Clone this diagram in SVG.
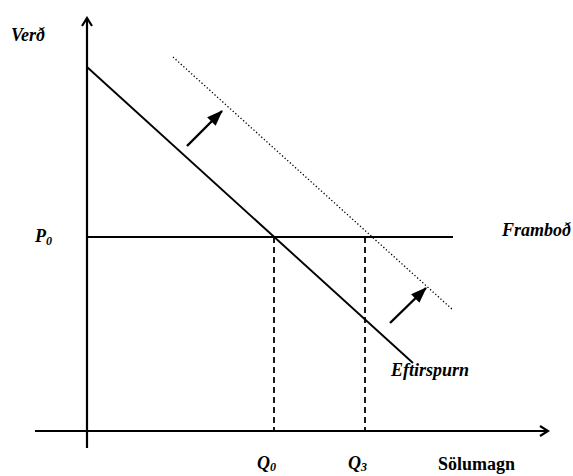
<svg xmlns="http://www.w3.org/2000/svg" width="573" height="476" viewBox="0 0 573 476">
<defs>
<style>
text{font-family:'Liberation Serif','Times New Roman',Times,serif;font-weight:bold;font-size:18px;fill:#000}
.it{font-style:italic}
.sub{font-size:12px}
.ax{stroke:#000;stroke-width:2.2;fill:none}
.ln{stroke:#000;stroke-width:1.9;fill:none}
.dash{stroke:#000;stroke-width:1.8;stroke-dasharray:6,4;fill:none}
.dot{stroke:#000;stroke-width:1.3;stroke-dasharray:1.3,2.2;fill:none}
.shift{stroke:#000;stroke-width:2.4;fill:none}
</style>
<marker id="open" viewBox="0 0 12 12" refX="10" refY="6" markerWidth="12" markerHeight="12" markerUnits="userSpaceOnUse" orient="auto">
<path d="M2,1 L10,6 L2,11" fill="none" stroke="#000" stroke-width="2.2"/>
</marker>
<marker id="solid" viewBox="0 0 16 12" refX="15" refY="6" markerWidth="16" markerHeight="12" markerUnits="userSpaceOnUse" orient="auto">
<path d="M0,0 L16,6 L0,12 Z" fill="#000"/>
</marker>
</defs>
<g id="axes">
<line id="y-axis" class="ax" x1="87" y1="448" x2="87" y2="18" marker-end="url(#open)"/>
<line id="x-axis" class="ax" x1="35" y1="431" x2="548" y2="431" marker-end="url(#open)"/>
</g>
<g id="connectors">
<line id="demand" class="ln" x1="87" y1="67" x2="413" y2="363"/>
<line id="demand-shifted" class="dot" x1="173" y1="57" x2="453" y2="310"/>
<line id="supply" class="ln" x1="87" y1="237" x2="453" y2="237"/>
<line id="q0-drop" class="dash" x1="274" y1="237" x2="274" y2="431"/>
<line id="q3-drop" class="dash" x1="365" y1="237" x2="365" y2="431"/>
<line id="shift-arrow-1" class="shift" x1="187" y1="146" x2="222" y2="111" marker-end="url(#solid)"/>
<line id="shift-arrow-2" class="shift" x1="390" y1="323" x2="426" y2="288" marker-end="url(#solid)"/>
</g>
<g id="labels">
<text id="verd" class="it" x="11" y="41">Verð</text>
<text id="p0" class="it" x="35" y="242">P<tspan class="sub" dy="3">0</tspan></text>
<text id="frambod" class="it" x="502" y="236">Framboð</text>
<text id="eftirspurn" class="it" x="391" y="376">Eftirspurn</text>
<text id="q0" class="it" x="257" y="469">Q<tspan class="sub" dy="2">0</tspan></text>
<text id="q3" class="it" x="348" y="469">Q<tspan class="sub" dy="2">3</tspan></text>
<text id="solumagn" x="438" y="470">Sölumagn</text>
</g>
</svg>
